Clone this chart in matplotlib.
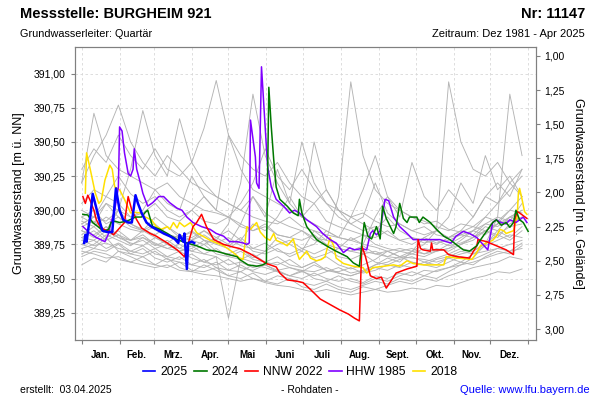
import numpy as np
import matplotlib.pyplot as plt
from matplotlib.ticker import FuncFormatter, FixedLocator
from matplotlib.lines import Line2D

plt.rcParams['font.family'] = ['Liberation Sans', 'DejaVu Sans']

# Geländehöhe (m ü. NN) für die rechte Achse
gelaende = 392.13

monate = ['Jan.', 'Feb.', 'Mrz.', 'Apr.', 'Mai', 'Juni', 'Juli', 'Aug.', 'Sept.', 'Okt.', 'Nov.', 'Dez.']
monatsgrenzen = [0, 31, 59, 90, 120, 151, 181, 212, 243, 273, 304, 334, 365]

# Ganglinien der übrigen Jahre (Wert alle 10 Tage ab 1. Jan.)
tage_grau = list(range(0, 361, 10))
grau_jahre = [
    [390.30, 390.45, 390.35, 390.55, 390.40, 390.30, 390.45, 390.30, 390.25, 390.35, 390.60, 390.95, 390.55, 390.40, 390.30, 390.25, 390.35, 390.20, 390.10, 390.05, 390.15, 390.00, 389.95, 389.90, 389.85, 389.95, 389.85, 389.80, 389.78, 389.75, 389.80, 389.85, 389.95, 390.10, 390.05, 390.20, 390.10],
    [389.70, 389.68, 389.65, 389.66, 389.62, 389.60, 389.58, 389.60, 389.56, 389.55, 389.53, 389.52, 389.50, 389.48, 389.50, 389.47, 389.45, 389.44, 389.42, 389.40, 389.42, 389.40, 389.38, 389.40, 389.42, 389.40, 389.41, 389.43, 389.42, 389.45, 389.44, 389.47, 389.50, 389.52, 389.55, 389.54, 389.57],
    [389.95, 389.90, 390.05, 389.95, 389.90, 389.85, 389.95, 389.88, 389.82, 389.80, 389.85, 389.78, 389.90, 390.20, 390.85, 390.40, 390.20, 390.05, 389.95, 389.90, 389.85, 389.80, 389.78, 389.75, 389.73, 389.70, 389.72, 389.70, 389.68, 389.72, 389.70, 389.75, 389.78, 389.85, 389.80, 389.90, 389.95],
    [390.20, 390.40, 390.55, 390.77, 390.50, 390.35, 390.25, 390.40, 390.30, 390.20, 390.15, 390.10, 390.05, 390.00, 390.10, 389.98, 389.92, 389.88, 389.85, 389.80, 389.78, 389.75, 389.72, 389.70, 389.68, 389.70, 389.66, 389.65, 389.64, 389.62, 389.65, 389.68, 389.70, 389.75, 389.85, 389.80, 389.88],
    [389.80, 389.85, 389.78, 389.82, 389.75, 389.78, 389.72, 389.75, 389.70, 389.72, 389.78, 389.70, 389.68, 389.72, 389.65, 389.70, 389.80, 389.75, 389.70, 389.85, 389.78, 390.10, 390.94, 390.40, 390.15, 390.05, 390.00, 389.95, 389.92, 389.88, 389.85, 389.90, 389.88, 389.95, 389.92, 390.00, 389.98],
    [389.75, 389.72, 389.80, 389.70, 389.68, 389.72, 389.65, 389.62, 389.66, 389.60, 389.58, 389.62, 389.56, 389.55, 389.60, 389.58, 389.55, 389.52, 389.55, 389.60, 389.56, 389.54, 389.52, 389.55, 389.60, 389.65, 389.62, 389.70, 389.80, 389.85, 390.94, 390.50, 390.30, 390.25, 390.35, 390.20, 390.30],
    [389.60, 389.65, 389.62, 389.70, 389.66, 389.62, 389.60, 389.65, 389.58, 389.55, 389.60, 389.56, 389.52, 389.55, 389.50, 389.48, 389.52, 389.50, 389.47, 389.45, 389.48, 389.44, 389.42, 389.45, 389.48, 389.46, 389.50, 389.48, 389.52, 389.50, 389.55, 389.60, 389.65, 389.75, 389.95, 390.85, 390.40],
    [389.90, 389.95, 390.05, 390.00, 390.30, 390.73, 390.40, 390.25, 390.67, 390.35, 390.20, 390.10, 390.05, 390.00, 389.95, 389.92, 389.90, 389.95, 389.88, 389.85, 389.82, 389.80, 389.78, 389.82, 389.75, 389.72, 389.70, 389.72, 389.68, 389.70, 389.72, 389.75, 389.80, 389.85, 389.90, 390.00, 390.10],
    [390.20, 390.71, 390.40, 390.30, 390.25, 390.20, 390.15, 390.20, 390.10, 390.05, 390.00, 389.98, 389.95, 389.90, 389.85, 389.88, 389.82, 389.80, 389.85, 389.78, 389.75, 389.72, 389.70, 389.68, 389.70, 389.66, 389.65, 389.68, 389.66, 389.70, 389.72, 389.78, 389.85, 389.95, 390.05, 390.15, 390.25],
    [389.85, 389.82, 389.88, 389.80, 389.78, 389.82, 389.75, 389.72, 389.75, 389.70, 389.68, 389.66, 389.21, 389.65, 389.62, 389.60, 389.62, 389.58, 389.56, 389.55, 389.58, 389.54, 389.52, 389.55, 389.58, 389.56, 389.60, 389.58, 389.62, 389.60, 389.65, 389.62, 389.68, 389.70, 389.72, 389.75, 389.78],
    [389.90, 389.95, 389.92, 390.00, 389.95, 389.98, 390.05, 389.95, 389.92, 390.00, 390.10, 390.00, 389.95, 390.05, 390.20, 390.45, 390.25, 390.15, 390.30, 390.15, 390.05, 390.00, 389.95, 389.98, 389.92, 389.88, 389.90, 389.85, 389.82, 389.85, 389.80, 389.82, 389.85, 389.90, 389.88, 389.95, 390.00],
    [389.75, 389.78, 389.72, 389.76, 389.70, 389.68, 389.72, 389.66, 389.64, 389.68, 389.62, 389.60, 389.64, 389.58, 389.56, 389.60, 389.55, 389.52, 389.56, 389.50, 389.48, 389.52, 389.48, 389.46, 389.50, 389.48, 389.52, 389.55, 389.52, 389.56, 389.58, 389.62, 389.60, 389.66, 389.70, 389.68, 389.74],
    [389.85, 389.80, 389.88, 389.82, 389.78, 389.85, 389.80, 389.76, 389.82, 389.78, 389.75, 389.80, 389.85, 389.78, 389.90, 389.85, 389.95, 390.10, 389.95, 390.50, 390.15, 390.00, 389.90, 389.95, 390.20, 389.98, 389.90, 389.85, 389.88, 389.82, 389.80, 389.85, 389.82, 389.90, 389.95, 389.92, 390.05],
    [389.95, 390.00, 389.90, 389.95, 389.88, 389.85, 389.90, 389.82, 389.80, 389.85, 389.78, 389.75, 389.72, 389.78, 389.70, 389.68, 389.72, 389.66, 389.70, 389.65, 389.68, 389.72, 389.80, 389.75, 389.95, 390.10, 389.95, 390.35, 390.10, 390.00, 390.15, 390.05, 389.95, 390.10, 390.20, 390.10, 390.30],
    [389.68, 389.72, 389.70, 389.75, 389.68, 389.66, 389.70, 389.64, 389.62, 389.60, 389.64, 389.58, 389.56, 389.60, 389.55, 389.53, 389.56, 389.52, 389.50, 389.54, 389.50, 389.48, 389.50, 389.47, 389.52, 389.50, 389.54, 389.52, 389.56, 389.55, 389.58, 389.60, 389.62, 389.65, 389.68, 389.70, 389.72],
    [390.00, 389.95, 390.10, 390.05, 389.95, 390.00, 390.15, 390.05, 390.00, 390.25, 390.10, 390.00, 390.55, 390.30, 390.15, 390.10, 390.05, 390.00, 389.95, 390.05, 389.92, 389.88, 389.85, 389.82, 389.80, 389.85, 389.78, 389.75, 389.80, 389.76, 389.78, 389.82, 389.80, 389.88, 389.85, 389.95, 389.92],
    [389.82, 389.88, 389.80, 389.85, 389.78, 389.80, 389.74, 389.78, 389.72, 389.70, 389.75, 389.68, 389.66, 389.70, 389.64, 389.62, 389.66, 389.60, 389.58, 389.62, 389.56, 389.55, 389.58, 389.54, 389.56, 389.60, 389.58, 389.62, 389.60, 389.64, 389.66, 389.70, 389.68, 389.74, 389.78, 389.82, 389.80],
    [390.05, 390.15, 390.10, 390.25, 390.12, 390.05, 390.10, 390.00, 389.95, 390.00, 389.92, 389.90, 389.95, 389.88, 389.85, 389.90, 389.82, 389.80, 389.78, 389.82, 389.75, 389.72, 389.70, 389.74, 389.68, 389.66, 389.70, 389.68, 389.72, 389.70, 389.75, 389.80, 389.85, 389.82, 389.90, 389.95, 390.00],
    [389.72, 389.75, 389.82, 389.78, 389.74, 389.80, 389.76, 389.72, 389.70, 389.74, 389.68, 389.72, 389.66, 389.64, 389.68, 389.62, 389.60, 389.64, 389.58, 389.62, 389.66, 389.60, 389.57, 389.60, 389.64, 389.70, 389.66, 389.62, 389.60, 389.58, 389.62, 389.66, 389.64, 389.68, 389.72, 389.70, 389.76],
    [389.88, 389.92, 389.85, 390.00, 389.90, 389.86, 389.82, 389.88, 389.80, 389.78, 389.82, 389.76, 389.74, 389.80, 389.72, 389.70, 389.75, 389.78, 389.72, 389.68, 389.72, 389.66, 389.64, 389.68, 389.62, 389.60, 389.64, 389.66, 389.62, 389.65, 389.68, 389.72, 389.70, 389.76, 389.82, 389.78, 389.85],
    [389.80, 389.78, 389.85, 389.80, 389.76, 389.74, 389.80, 389.75, 389.72, 389.78, 389.85, 389.80, 389.75, 389.90, 390.10, 389.95, 390.30, 390.05, 390.50, 390.20, 390.05, 389.95, 389.90, 389.85, 389.88, 389.82, 389.78, 389.80, 389.76, 389.78, 389.74, 389.76, 389.80, 389.85, 389.82, 389.88, 389.90],
    [389.78, 389.74, 389.76, 389.72, 389.70, 389.74, 389.68, 389.66, 389.70, 389.65, 389.62, 389.66, 389.60, 389.62, 389.58, 389.60, 389.56, 389.58, 389.55, 389.52, 389.55, 389.58, 389.54, 389.56, 389.60, 389.62, 389.66, 389.70, 389.75, 389.85, 389.95, 390.20, 390.05, 390.40, 390.15, 390.25, 390.10],
    [389.92, 389.88, 389.95, 389.90, 389.86, 389.84, 389.88, 389.82, 389.80, 389.84, 389.78, 389.76, 389.80, 389.74, 389.72, 389.76, 389.70, 389.68, 389.72, 389.75, 389.85, 389.80, 389.95, 390.15, 390.40, 390.10, 390.00, 389.95, 389.90, 389.92, 389.86, 389.84, 389.88, 389.85, 389.90, 389.92, 389.95],
    [389.66, 389.70, 389.68, 389.64, 389.62, 389.66, 389.60, 389.58, 389.62, 389.56, 389.55, 389.58, 389.52, 389.50, 389.54, 389.48, 389.46, 389.50, 389.44, 389.42, 389.46, 389.42, 389.40, 389.44, 389.42, 389.45, 389.48, 389.46, 389.50, 389.48, 389.52, 389.55, 389.58, 389.60, 389.62, 389.66, 389.64],
]

# 2025
tage_2025 = [2, 3, 4, 6, 7, 9, 15, 17, 21, 25, 28, 31, 34, 38, 41, 44, 46, 49, 53, 57, 61, 67, 72, 76, 79, 80, 83, 84, 86, 87, 90, 92]
werte_2025 = [389.76, 389.82, 389.77, 389.90, 389.95, 390.12, 389.91, 389.85, 389.84, 389.84, 390.16, 390.00, 389.93, 389.91, 389.91, 390.11, 390.05, 389.98, 389.91, 389.88, 389.86, 389.83, 389.81, 389.79, 389.76, 389.82, 389.77, 389.83, 389.57, 389.76, 389.77, 389.76]

# 2024
tage_2024 = [1, 5, 9, 14, 18, 22, 24, 27, 31, 37, 44, 49, 52, 54, 56, 58, 64, 70, 78, 86, 94, 102, 110, 118, 127, 129, 136, 143, 148, 151, 153, 155, 157, 159, 162, 168, 173, 177, 178, 180, 184, 192, 200, 208, 217, 222, 227, 231, 234, 237, 241, 244, 246, 249, 255, 257, 260, 263, 266, 268, 274, 276, 279, 285, 290, 296, 301, 306, 312, 317, 323, 325, 336, 339, 343, 347, 350, 353, 355, 358, 361, 365]
werte_2024 = [389.97, 389.965, 389.91, 389.875, 389.845, 389.86, 389.91, 389.92, 389.91, 389.92, 389.95, 389.95, 389.985, 390.00, 389.94, 389.88, 389.86, 389.83, 389.785, 389.76, 389.74, 389.71, 389.70, 389.68, 389.66, 389.64, 389.60, 389.59, 389.60, 389.615, 390.90, 390.61, 390.37, 390.17, 390.08, 390.03, 389.98, 389.96, 390.08, 389.98, 389.88, 389.785, 389.74, 389.70, 389.66, 389.615, 389.59, 389.91, 389.81, 389.79, 389.88, 389.79, 390.03, 389.94, 389.83, 389.88, 390.05, 389.94, 389.91, 389.95, 389.95, 389.91, 389.95, 389.91, 389.86, 389.81, 389.785, 389.75, 389.71, 389.70, 389.74, 389.77, 389.91, 389.93, 389.89, 389.91, 389.875, 389.91, 390.00, 389.93, 389.91, 389.845]

# NNW 2022
tage_2022 = [1, 3, 5, 7, 10, 12, 15, 18, 23, 26, 30, 35, 38, 41, 45, 49, 56, 61, 70, 78, 84, 91, 94, 98, 102, 108, 116, 124, 129, 138, 151, 159, 162, 168, 176, 181, 187, 195, 203, 211, 218, 223, 227, 229, 232, 236, 241, 245, 249, 257, 266, 274, 275, 277, 279, 285, 286, 287, 296, 300, 307, 317, 323, 324, 331, 339, 347, 353, 354, 356, 358, 364]
werte_2022 = [390.10, 390.05, 390.11, 390.07, 390.00, 389.93, 389.88, 389.86, 389.845, 389.82, 389.86, 389.91, 390.10, 390.00, 389.93, 389.87, 389.83, 389.81, 389.76, 389.71, 389.66, 389.88, 389.91, 389.97, 389.88, 389.785, 389.75, 389.73, 389.72, 389.68, 389.61, 389.585, 389.54, 389.49, 389.48, 389.47, 389.42, 389.35, 389.31, 389.27, 389.24, 389.21, 389.19, 389.74, 389.66, 389.52, 389.50, 389.51, 389.43, 389.54, 389.57, 389.59, 389.785, 389.72, 389.71, 389.70, 389.76, 389.71, 389.71, 389.675, 389.66, 389.65, 389.74, 389.785, 389.77, 389.74, 389.71, 389.675, 389.93, 389.99, 389.98, 389.94]

# HHW 1985
tage_1985 = [1, 7, 12, 19, 22, 24, 27, 30, 31, 33, 35, 38, 40, 42, 43, 45, 48, 50, 54, 58, 63, 67, 72, 78, 82, 86, 91, 98, 105, 110, 116, 121, 127, 132, 135, 137, 138, 142, 143, 145, 147, 150, 152, 155, 159, 165, 170, 174, 178, 184, 192, 197, 203, 208, 214, 219, 223, 229, 233, 236, 238, 241, 244, 248, 251, 255, 260, 266, 271, 276, 285, 293, 298, 302, 306, 312, 317, 323, 328, 332, 336, 339, 343, 347, 350, 355, 358, 361, 364]
werte_1985 = [389.88, 389.83, 389.80, 389.77, 389.83, 389.91, 390.00, 390.17, 390.61, 390.58, 390.42, 390.27, 390.25, 390.30, 390.45, 390.30, 390.20, 390.125, 390.03, 390.055, 390.10, 390.10, 390.055, 390.015, 390.00, 389.95, 389.91, 389.88, 389.86, 389.83, 389.81, 389.77, 389.77, 389.76, 389.75, 389.76, 390.66, 390.39, 390.20, 390.16, 391.05, 390.61, 390.32, 390.17, 390.08, 390.03, 389.98, 390.00, 389.98, 389.93, 389.88, 389.83, 389.785, 389.76, 389.69, 389.725, 389.71, 389.72, 389.71, 389.83, 389.85, 389.82, 389.85, 390.08, 390.07, 389.95, 389.88, 389.83, 389.785, 389.785, 389.785, 389.785, 389.77, 389.76, 389.81, 389.845, 389.83, 389.80, 389.75, 389.71, 389.91, 389.93, 389.91, 389.90, 389.93, 389.91, 389.93, 389.95, 389.91]

# 2018
tage_2018 = [3, 4, 7, 11, 14, 16, 19, 23, 25, 27, 31, 35, 40, 44, 48, 52, 57, 61, 65, 70, 72, 75, 78, 80, 84, 89, 94, 99, 105, 116, 124, 129, 132, 135, 138, 143, 146, 150, 154, 157, 159, 164, 168, 173, 176, 178, 184, 187, 192, 196, 199, 203, 206, 208, 214, 222, 230, 233, 238, 247, 255, 260, 266, 271, 279, 296, 298, 307, 319, 323, 326, 331, 336, 339, 342, 345, 347, 350, 353, 356, 357, 358, 360, 362, 364]
werte_2018 = [390.125, 390.42, 390.30, 390.13, 390.05, 390.07, 390.22, 390.33, 390.30, 390.17, 390.15, 390.08, 389.98, 389.985, 389.98, 389.95, 389.93, 389.88, 389.86, 389.88, 389.86, 389.91, 389.87, 389.91, 389.88, 389.91, 389.835, 389.81, 389.78, 389.74, 389.69, 389.65, 389.64, 389.88, 389.86, 389.91, 389.84, 389.80, 389.78, 389.83, 389.78, 389.76, 389.74, 389.79, 389.69, 389.64, 389.70, 389.65, 389.63, 389.64, 389.66, 389.80, 389.74, 389.65, 389.61, 389.59, 389.58, 389.54, 389.58, 389.59, 389.60, 389.59, 389.63, 389.61, 389.60, 389.60, 389.66, 389.65, 389.64, 389.69, 389.74, 389.76, 389.78, 389.81, 389.86, 389.85, 389.83, 389.84, 389.85, 389.95, 390.125, 390.16, 390.08, 389.99, 389.97]

fig = plt.figure(figsize=(6, 4), dpi=100)
ax = fig.add_axes([0.1245, 0.15, 0.768, 0.7325])

for werte in grau_jahre:
    ax.plot(tage_grau, werte, color='#b4b4b4', lw=0.65, zorder=2)

ax.plot(tage_2018, werte_2018, color='#ffe000', lw=1.1, zorder=3)
ax.plot(tage_1985, werte_1985, color='#8000ff', lw=1.1, zorder=4)
ax.plot(tage_2022, werte_2022, color='#ff0000', lw=1.1, zorder=5)
ax.plot(tage_2024, werte_2024, color='#007800', lw=1.1, zorder=6)
ax.plot(tage_2025, werte_2025, color='#0000ff', lw=1.8, zorder=7)

ax.set_xlim(-5.7, 371)
ax.set_ylim(389.05, 391.195)

komma = FuncFormatter(lambda v, p: f'{v:.2f}'.replace('.', ','))
ax.yaxis.set_major_locator(FixedLocator(np.arange(389.25, 391.01, 0.25)))
ax.yaxis.set_major_formatter(komma)
ax.set_ylabel('Grundwasserstand [m ü. NN]', fontsize=9, labelpad=6)

ax.xaxis.set_major_locator(FixedLocator(monatsgrenzen))
ax.xaxis.set_major_formatter(FuncFormatter(lambda v, p: ''))
mitten = [(a + b) / 2 for a, b in zip(monatsgrenzen[:-1], monatsgrenzen[1:])]
ax.set_xticks(mitten, monate, minor=True)
ax.tick_params(axis='x', which='minor', length=0, labelsize=7, pad=7)
for t in ax.get_xticklabels(minor=True):
    t.set_fontweight('bold')
ax.tick_params(axis='x', which='major', length=3, color='#808080')
ax.tick_params(axis='y', labelsize=7.5, length=3, color='#808080')

ax.grid(True, which='major', color='#d8d8d8', linestyle=(0, (3, 3)), lw=0.6)
ax.set_axisbelow(True)
for s in ax.spines.values():
    s.set_color('#808080')

ax2 = ax.twinx()
ax2.set_ylim(gelaende - 389.05, gelaende - 391.195)
ax2.yaxis.set_major_locator(FixedLocator(np.arange(1.0, 3.01, 0.25)))
ax2.yaxis.set_major_formatter(komma)
ax2.tick_params(axis='y', labelsize=7.5, length=3, color='#808080')
ax2.set_ylabel('Grundwasserstand [m u. Gelände]', fontsize=9, rotation=270, labelpad=14)
for s in ax2.spines.values():
    s.set_color('#808080')

eintraege = [('2025', '#0000ff'), ('2024', '#007800'), ('NNW 2022', '#ff0000'),
             ('HHW 1985', '#8000ff'), ('2018', '#ffe000')]
handles = [Line2D([], [], color=c, lw=1.2) for _, c in eintraege]
fig.legend(handles, [n for n, _ in eintraege], loc='center', bbox_to_anchor=(0.5, 0.07),
           ncol=5, frameon=False, fontsize=8.7, handlelength=1.05, handletextpad=0.4,
           columnspacing=0.55)

fig.text(0.033, 0.965, 'Messstelle: BURGHEIM 921', fontsize=10.5, fontweight='bold', va='center', ha='left')
fig.text(0.975, 0.965, 'Nr: 11147', fontsize=10.5, fontweight='bold', va='center', ha='right')
fig.text(0.033, 0.915, 'Grundwasserleiter: Quartär', fontsize=7.8, va='center', ha='left')
fig.text(0.975, 0.915, 'Zeitraum: Dez 1981 - Apr 2025', fontsize=8, va='center', ha='right')

fig.text(0.033, 0.025, 'erstellt:  03.04.2025', fontsize=7.5, va='center', ha='left')
fig.text(0.517, 0.025, '- Rohdaten -', fontsize=7.5, va='center', ha='center')
fig.text(0.983, 0.025, 'Quelle: www.lfu.bayern.de', fontsize=8, va='center', ha='right', color='#0000ff')

fig.savefig('out.png', dpi=100)
